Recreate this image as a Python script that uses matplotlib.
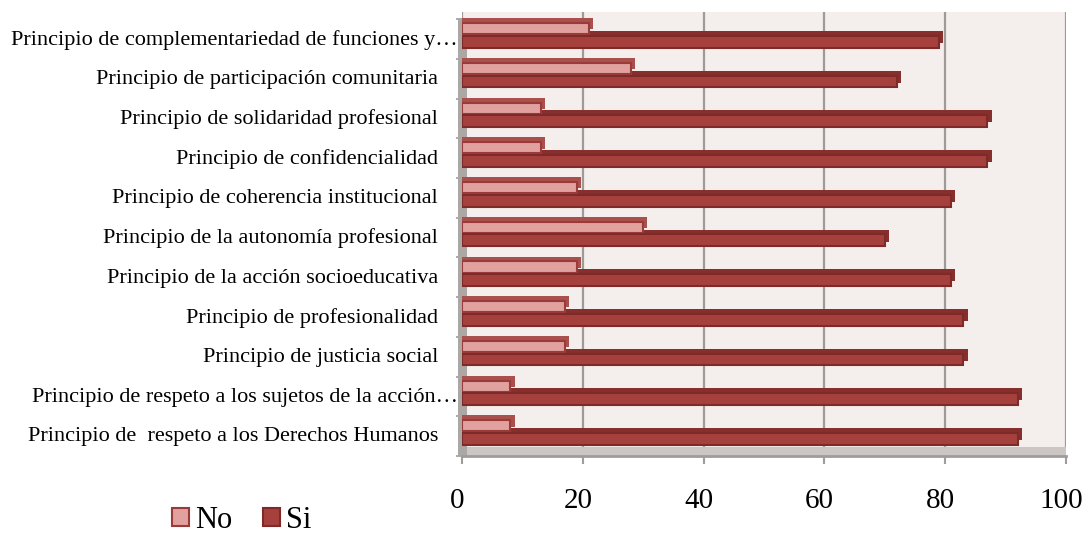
import matplotlib
matplotlib.use("Agg")
import matplotlib.pyplot as plt
import matplotlib.transforms as mtransforms
from matplotlib.patches import Patch, Rectangle

# datos (de abajo hacia arriba)
principios = [
    "Principio de  respeto a los Derechos Humanos",
    "Principio de respeto a los sujetos de la acción…",
    "Principio de justicia social",
    "Principio de profesionalidad",
    "Principio de la acción socioeducativa",
    "Principio de la autonomía profesional",
    "Principio de coherencia institucional",
    "Principio de confidencialidad",
    "Principio de solidaridad profesional",
    "Principio de participación comunitaria",
    "Principio de complementariedad de funciones y…",
]
no_vals = [8, 8, 17, 17, 19, 30, 19, 13, 13, 28, 21]
si_vals = [92, 92, 83, 83, 81, 70, 81, 87, 87, 72, 79]
x_ticks = [0, 20, 40, 60, 80, 100]

plt.rcParams['font.family'] = ['Liberation Serif', 'DejaVu Serif']

W, H = 1088, 541
fig = plt.figure(figsize=(W / 100, H / 100), dpi=100)
ax = fig.add_axes([462 / W, 1 - 456 / H, 604 / W, 444 / H])
ax.set_facecolor('#F4EFED')

no_face, no_edge = '#E0A19F', '#9A3B39'
si_face, si_edge = '#A5403D', '#7E2A28'
depth_col = '#862F2D'

dx, dy = 0.7, 0.12
for i, (n, s) in enumerate(zip(no_vals, si_vals)):
    ys, yn = i - 0.05, i + 0.28
    # caras de profundidad (efecto 3D)
    ax.barh(ys + dy, s + dx, height=0.3, left=0, color=depth_col, zorder=3)
    ax.barh(yn + dy, n + dx, height=0.28, left=0, color='#A9504D', zorder=4)
    ax.barh(yn, n, height=0.28, left=0, color=no_face, edgecolor=no_edge, linewidth=1.5, zorder=5)
    ax.barh(ys, s, height=0.3, left=0, color=si_face, edgecolor=si_edge, linewidth=1.5, zorder=5)

ax.set_xlim(0, 100)
ax.set_ylim(-0.43, 10.70)
ax.set_xticks(x_ticks)
ax.set_xticklabels([str(t) for t in x_ticks], fontsize=21)
ax.tick_params(axis='x', length=6, width=1.5, color='#A09C9A', pad=17)
# la cara frontal del eje está algo desplazada a la izquierda
shift = mtransforms.ScaledTranslation(-5 / 100, 0, fig.dpi_scale_trans)
for lbl in ax.get_xticklabels():
    lbl.set_transform(lbl.get_transform() + shift)
ax.set_yticks([i + 0.52 for i in range(-1, len(principios))])
ax.set_yticklabels([])
ax.tick_params(axis='y', length=4, width=1.2, color='#A09C9A')
ax.grid(axis='x', color='#9E9A98', linewidth=1.6, zorder=1)
ax.set_axisbelow(True)
for sp in ['top', 'right', 'left']:
    ax.spines[sp].set_visible(False)
ax.spines['bottom'].set_color('#A09C9A')
ax.spines['bottom'].set_linewidth(2)

# suelo y pared lateral
ax.add_patch(Rectangle((0, 0), 1, 9 / 444, transform=ax.transAxes,
                       facecolor='#CBC5C3', edgecolor='none', zorder=2))
ax.add_patch(Rectangle((-4 / 604, 0), 9 / 604, 1 - 6 / 444, transform=ax.transAxes,
                       facecolor='#ABA7A5', edgecolor='none', zorder=2, clip_on=False))

# etiquetas de categorías
tr = ax.get_yaxis_transform()
for i, lab in enumerate(principios):
    xo = -4 / 604 if lab.endswith('…') else -24 / 604
    ax.text(xo, i, lab, transform=tr, ha='right', va='center', fontsize=16)

handles = [Patch(facecolor=no_face, edgecolor=no_edge, linewidth=1.5, label='No'),
           Patch(facecolor=si_face, edgecolor=si_edge, linewidth=1.5, label='Si')]
fig.legend(handles=handles, loc='lower left', bbox_to_anchor=(160 / W, -6 / H),
           ncol=2, frameon=False, fontsize=22, handlelength=0.55, handleheight=0.55,
           handletextpad=0.2, columnspacing=1.0, borderaxespad=0)

fig.savefig('out.png', dpi=100)
